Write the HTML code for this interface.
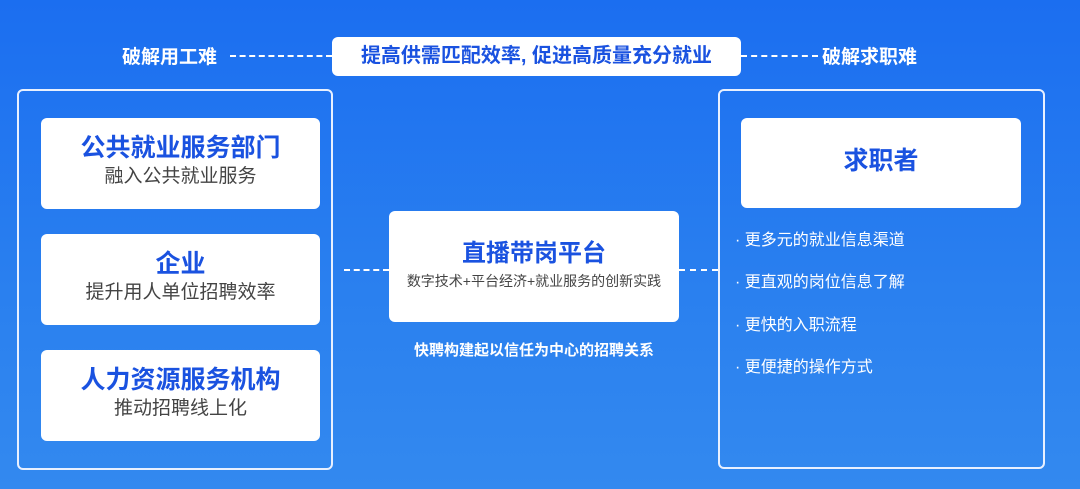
<!DOCTYPE html>
<html><head><meta charset="utf-8"><style>
*{margin:0;padding:0;box-sizing:border-box}
body{width:1080px;height:489px;overflow:hidden;background:linear-gradient(180deg,#1b6ef0 0%,#2a80ef 60%,#3389ef 100%);font-family:"Liberation Sans","Noto Sans CJK SC",sans-serif;position:relative}
.a{position:absolute}
.w{background:#fff;border-radius:6px}
.frame{border:2px solid #e8f0ff;border-radius:6px}
.dot{border-top:2px dashed #fff;height:0}
.t{color:#fff;font-weight:bold;font-size:19px}
.card{text-align:center}
.card .h{color:#1a52e0;font-weight:bold;font-size:25px;line-height:30px}
.card .s{color:#444;font-size:19px;line-height:28px}
.li{color:#fff;font-size:16px}
</style></head><body>
<div class="a t" style="left:122px;top:42px">破解用工难</div>
<div class="a t" style="left:822px;top:42px">破解求职难</div>
<div class="a dot" style="left:230px;top:55px;width:102px"></div>
<div class="a dot" style="left:741px;top:55px;width:77px"></div>
<div class="a w" style="left:332px;top:37px;width:409px;height:39px;text-align:center;line-height:39px;color:#1a52e0;font-weight:bold;font-size:20px">提高供需匹配效率, 促进高质量充分就业</div>

<div class="a frame" style="left:17px;top:89px;width:316px;height:381px"></div>
<div class="a w card" style="left:41px;top:118px;width:279px;height:91px;padding-top:15px"><div class="h">公共就业服务部门</div><div class="s">融入公共就业服务</div></div>
<div class="a w card" style="left:41px;top:234px;width:279px;height:91px;padding-top:15px"><div class="h">企业</div><div class="s">提升用人单位招聘效率</div></div>
<div class="a w card" style="left:41px;top:350px;width:279px;height:91px;padding-top:15px"><div class="h">人力资源服务机构</div><div class="s">推动招聘线上化</div></div>

<div class="a dot" style="left:344px;top:269px;width:45px"></div>
<div class="a dot" style="left:679px;top:269px;width:39px"></div>
<div class="a w card" style="left:389px;top:211px;width:290px;height:111px;padding-top:28px"><div class="h" style="font-size:24px">直播带岗平台</div><div class="s" style="font-size:14px;line-height:24px">数字技术+平台经济+就业服务的创新实践</div></div>
<div class="a t" style="left:389px;top:339px;width:290px;text-align:center;font-size:15px">快聘构建起以信任为中心的招聘关系</div>

<div class="a frame" style="left:718px;top:89px;width:327px;height:380px"></div>
<div class="a w card" style="left:741px;top:118px;width:280px;height:90px"><div class="h" style="line-height:86px">求职者</div></div>
<div class="a li" style="left:735px;top:226px">· 更多元的就业信息渠道</div>
<div class="a li" style="left:735px;top:268px">· 更直观的岗位信息了解</div>
<div class="a li" style="left:735px;top:311px">· 更快的入职流程</div>
<div class="a li" style="left:735px;top:353px">· 更便捷的操作方式</div>
</body></html>
